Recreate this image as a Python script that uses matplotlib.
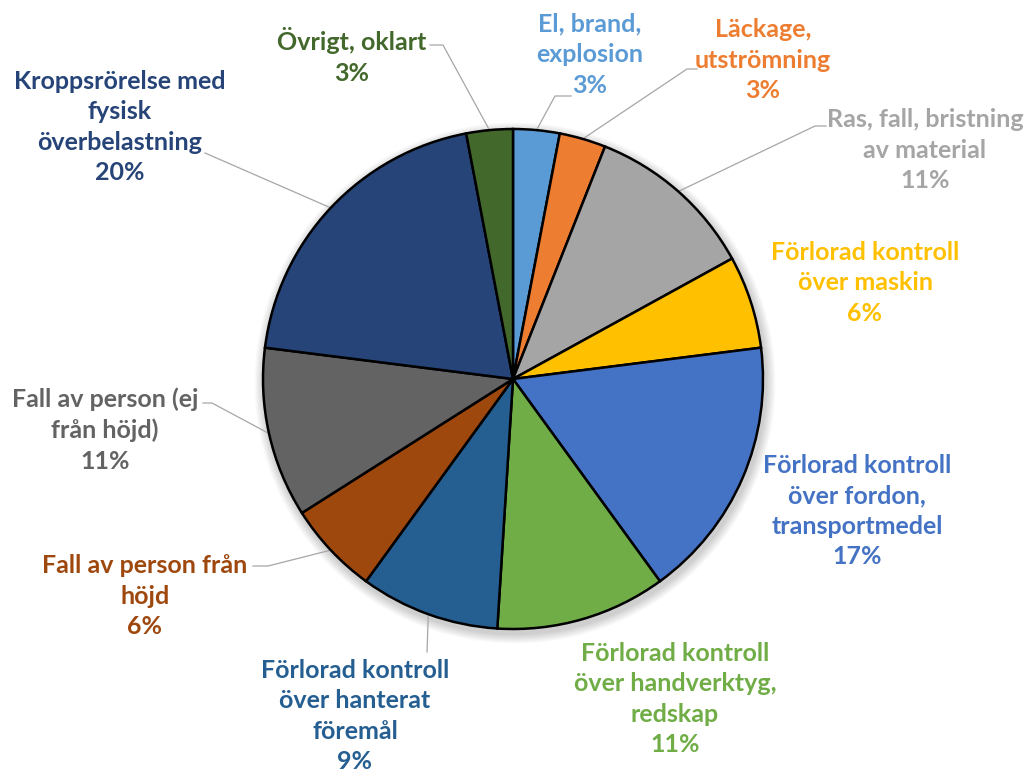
import matplotlib.pyplot as plt
import numpy as np

# Orsaker till olycksfall, andel i procent
kategorier = [
    "El, brand,\nexplosion",
    "Läckage,\nutströmning",
    "Ras, fall, bristning\nav material",
    "Förlorad kontroll\növer maskin",
    "Förlorad kontroll\növer fordon,\ntransportmedel",
    "Förlorad kontroll\növer handverktyg,\nredskap",
    "Förlorad kontroll\növer hanterat\nföremål",
    "Fall av person från\nhöjd",
    "Fall av person (ej\nfrån höjd)",
    "Kroppsrörelse med\nfysisk\növerbelastning",
    "Övrigt, oklart",
]
andelar = [3, 3, 11, 6, 17, 11, 9, 6, 11, 20, 3]
farger = ["#5B9BD5", "#ED7D31", "#A5A5A5", "#FFC000", "#4472C4", "#70AD47",
          "#255E91", "#9E480E", "#636363", "#264478", "#43682B"]

W, H = 1027, 776
fig = plt.figure(figsize=(W / 100, H / 100), dpi=100)
ax = fig.add_axes([0, 0, 1, 1])
ax.axis("off")

cx, cy, r = 513, H - 379, 250

# mjuk skugga under cirkeln
for i in range(8):
    ax.add_patch(plt.Circle((cx + 2, cy - 4), r + 2 + i * 1.2, color="black",
                            alpha=0.025, lw=0, zorder=0))

wedges, _ = ax.pie(andelar, colors=farger, startangle=90, counterclock=False,
                   center=(cx, cy), radius=r,
                   wedgeprops=dict(edgecolor="black", linewidth=1.8))
ax.set_xlim(0, W)
ax.set_ylim(0, H)
ax.set_aspect("equal")

# textplacering (mitt på etikettblocket) och ände på ledlinjen
etikett_pos = [(590, 55), (763, 60), (925, 150), (865, 283), (857, 511),
               (675, 699), (355, 716), (145, 596), (105, 430), (120, 127), (352, 56)]
ledlinje = [
    [(555, 96), (571, 96)],
    [(687, 69), (697, 69)],
    [(815, 126), (826, 126)],
    None,
    None,
    None,
    [(427, 652)],
    [(268, 566), (253, 566)],
    [(212, 403), (203, 403)],
    [(205, 153)],
    [(443, 45), (430, 45)],
]

for w, txt, val, col, (lx, ly), led in zip(wedges, kategorier, andelar, farger,
                                          etikett_pos, ledlinje):
    ax.text(lx, H - ly, f"{txt}\n{val}%", ha="center", va="center",
            color=col, fontsize=18, fontweight="bold", family="Lato",
            linespacing=1.4)
    if led is None:
        continue
    mid = np.deg2rad((w.theta1 + w.theta2) / 2)
    xs = [cx + r * np.cos(mid)] + [p[0] for p in led]
    ys = [cy + r * np.sin(mid)] + [H - p[1] for p in led]
    ax.plot(xs, ys, color="#A6A6A6", lw=0.9, zorder=0.5)

fig.savefig("out.png", dpi=100, facecolor="white")
